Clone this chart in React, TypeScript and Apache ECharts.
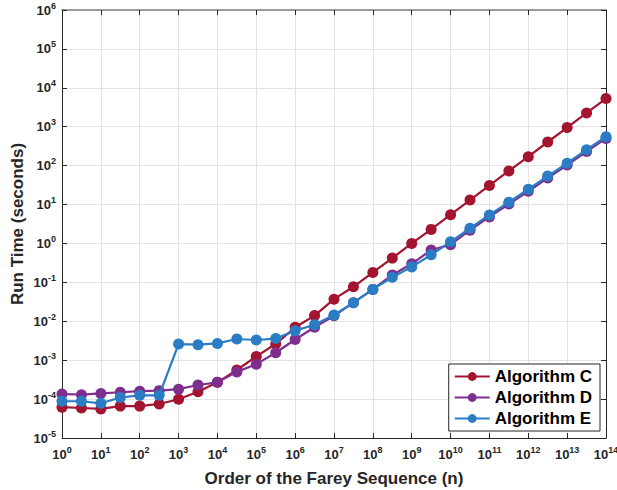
import React, { useEffect, useRef } from "react";
import * as echarts from "echarts";

const nValues = [
  1, 3.162, 10, 31.62, 100, 316.2, 1e3, 3.162e3, 1e4, 3.162e4, 1e5, 3.162e5, 1e6, 3.162e6,
  1e7, 3.162e7, 1e8, 3.162e8, 1e9, 3.162e9, 1e10, 3.162e10, 1e11, 3.162e11, 1e12, 3.162e12,
  1e13, 3.162e13, 1e14,
];

const algC = [
  6.2e-5, 5.9e-5, 5.6e-5, 6.6e-5, 6.6e-5, 7.5e-5, 9.9e-5, 1.55e-4, 2.7e-4, 5.6e-4, 1.25e-3,
  2.6e-3, 7.0e-3, 1.4e-2, 3.7e-2, 7.7e-2, 0.18, 0.42, 1.0, 2.3, 5.5, 13, 31, 73, 170, 405, 950,
  2260, 5300,
];

const algD = [
  1.35e-4, 1.3e-4, 1.4e-4, 1.5e-4, 1.6e-4, 1.65e-4, 1.8e-4, 2.3e-4, 2.7e-4, 5.0e-4, 7.9e-4,
  1.55e-3, 3.4e-3, 7.0e-3, 1.38e-2, 3.0e-2, 0.066, 0.155, 0.3, 0.68, 0.93, 2.2, 4.8, 10.3, 22,
  48, 104, 230, 500,
];

const algE = [
  8.8e-5, 8.8e-5, 7.8e-5, 1.1e-4, 1.25e-4, 1.25e-4, 2.6e-3, 2.5e-3, 2.7e-3, 3.5e-3, 3.3e-3,
  3.6e-3, 5.7e-3, 8.2e-3, 1.45e-2, 3.0e-2, 0.066, 0.135, 0.25, 0.51, 1.1, 2.46, 5.4, 11.5, 24.7,
  54, 115, 257, 556,
];

const seriesNames = ["Algorithm C", "Algorithm D", "Algorithm E"];
const seriesColors = ["#A2142F", "#7E2F8E", "#2A7CC4"];

const FONT = "Liberation Sans, Arial, Helvetica, sans-serif";
const AXIS_COLOR = "#262626";

const powLabel = (v: number) => {
  const e = Math.round(Math.log10(v));
  return `{b|10}{sup|${e}}`;
};

const labelRich = {
  b: { fontSize: 13, fontWeight: "bold", color: AXIS_COLOR, fontFamily: FONT },
  sup: { fontSize: 9, fontWeight: "bold", color: AXIS_COLOR, fontFamily: FONT, padding: [0, 0, 9, 0] },
};

export default function App() {
  const ref = useRef<HTMLDivElement>(null);

  useEffect(() => {
    if (!ref.current) return;
    const chart = echarts.init(ref.current, undefined, { renderer: "svg" });
    const mk = (vals: number[]) => nValues.map((n, i) => [n, vals[i]]);
    const datasets = [algC, algD, algE];

    chart.setOption({
      animation: false,
      backgroundColor: "#ffffff",
      textStyle: { fontFamily: FONT },
      grid: {
        left: 62,
        right: 11,
        top: 10,
        bottom: 52,
        containLabel: false,
        outerBoundsMode: "none",
        show: false,
      },
      legend: {
        right: 17,
        bottom: 59,
        orient: "vertical",
        backgroundColor: "#ffffff",
        borderColor: AXIS_COLOR,
        borderWidth: 1,
        borderRadius: 0,
        padding: [3, 8, 3, 5],
        itemWidth: 35,
        itemHeight: 11,
        itemGap: 2,
        textStyle: { fontSize: 17, fontWeight: "bold", color: "#000", fontFamily: FONT, lineHeight: 19 },
        data: seriesNames,
      },
      xAxis: [
        {
          type: "log",
          logBase: 10,
          min: 1,
          max: 1e14,
          interval: 1,
          name: "Order of the Farey Sequence (n)",
          nameLocation: "middle",
          nameGap: 32,
          nameTextStyle: { fontSize: 17, fontWeight: "bold", color: AXIS_COLOR, fontFamily: FONT },
          axisLine: { show: true, lineStyle: { color: AXIS_COLOR, width: 1 } },
          axisTick: { show: true, inside: true, length: 5, lineStyle: { color: AXIS_COLOR } },
          minorTick: { show: false },
          axisLabel: { formatter: powLabel, rich: labelRich, margin: 7, showMinLabel: true, showMaxLabel: true },
          splitLine: { show: true, lineStyle: { color: "#E3E3E3", width: 1 } },
        },
        {
          type: "log",
          logBase: 10,
          min: 1,
          max: 1e14,
          interval: 1,
          position: "top",
          axisLine: { show: true, onZero: false, lineStyle: { color: "#808080", width: 1.5 } },
          axisTick: { show: true, inside: true, length: 5, lineStyle: { color: AXIS_COLOR } },
          axisLabel: { show: false },
          splitLine: { show: false },
        },
      ],
      yAxis: [
        {
          type: "log",
          logBase: 10,
          min: 1e-5,
          max: 1e6,
          interval: 1,
          name: "Run Time (seconds)",
          nameLocation: "middle",
          nameGap: 36,
          nameMoveOverlap: false,
          nameTextStyle: { fontSize: 17, fontWeight: "bold", color: AXIS_COLOR, fontFamily: FONT },
          axisLine: { show: true, lineStyle: { color: AXIS_COLOR, width: 1 } },
          axisTick: { show: true, inside: true, length: 5, lineStyle: { color: AXIS_COLOR } },
          axisLabel: { formatter: powLabel, rich: labelRich, margin: 6, showMinLabel: true, showMaxLabel: true },
          splitLine: { show: true, lineStyle: { color: "#E3E3E3", width: 1 } },
        },
        {
          type: "log",
          logBase: 10,
          min: 1e-5,
          max: 1e6,
          interval: 1,
          position: "right",
          axisLine: { show: true, onZero: false, lineStyle: { color: AXIS_COLOR, width: 1 } },
          axisTick: { show: true, inside: true, length: 5, lineStyle: { color: AXIS_COLOR } },
          axisLabel: { show: false },
          splitLine: { show: false },
        },
      ],
      series: seriesNames.map((name, i) => ({
        name,
        type: "line",
        xAxisIndex: 0,
        yAxisIndex: 0,
        data: mk(datasets[i]),
        symbol: "circle",
        symbolSize: 11,
        showSymbol: true,
        color: seriesColors[i],
        lineStyle: { width: 2.2, color: seriesColors[i] },
        itemStyle: { color: seriesColors[i] },
        emphasis: { disabled: true },
        z: 2 + i,
      })),
    });

    return () => chart.dispose();
  }, []);

  return (
    <div
      ref={ref}
      style={{ position: "fixed", left: 0, top: 0, width: 617, height: 490, background: "#fff" }}
    />
  );
}
